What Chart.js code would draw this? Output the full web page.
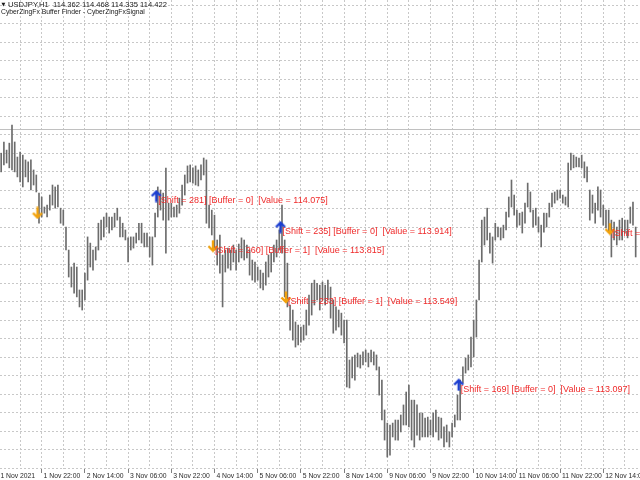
<!DOCTYPE html>
<html>
<head>
<meta charset="utf-8">
<script src="https://cdn.jsdelivr.net/npm/chart.js@4.4.1/dist/chart.umd.min.js"></script>
<style>
  html, body { margin: 0; padding: 0; background: #fff; }
  canvas { display: block; }
</style>
</head>
<body>
<canvas id="chart" width="640" height="480"></canvas>
<script>
const symbolLine = "USDJPY,H1  114.362 114.468 114.335 114.422";
const indicatorLine = "CyberZingFx Buffer Finder - CyberZingFxSignal";
const bidPrice = 114.422;

// H1 bars, oldest first; the first one has shift 339
const firstShift = 339;
const highs = [
  114.297, 114.355, 114.313, 114.349, 114.443, 114.355, 114.277, 114.303, 114.287, 114.262,
  114.252, 114.262, 114.210, 114.184, 114.090, 114.070, 114.018, 114.028, 114.080, 114.132,
  114.122, 114.132, 114.012, 114.002, 113.914, 113.795, 113.707, 113.727, 113.707, 113.588,
  113.588, 113.675, 113.863, 113.831, 113.795, 113.811, 113.934, 113.950, 113.966, 113.986,
  113.966, 113.966, 113.986, 114.012, 113.966, 113.934, 113.899, 113.858, 113.863, 113.863,
  113.883, 113.934, 113.934, 113.883, 113.883, 113.863, 113.863, 113.986, 114.122, 114.106,
  114.090, 114.220, 114.038, 114.038, 114.018, 114.028, 114.064, 114.132, 114.184, 114.231,
  114.236, 114.221, 114.231, 114.210, 114.236, 114.272, 114.262, 114.028, 114.002, 113.976,
  113.847, 113.873, 113.769, 113.795, 113.805, 113.795, 113.821, 113.795, 113.826, 113.858,
  113.847, 113.821, 113.795, 113.743, 113.733, 113.707, 113.691, 113.675, 113.733, 113.769,
  113.779, 113.821, 113.847, 113.899, 114.028, 113.847, 113.727, 113.510, 113.484, 113.422,
  113.406, 113.396, 113.406, 113.484, 113.562, 113.623, 113.639, 113.623, 113.613, 113.629,
  113.613, 113.639, 113.603, 113.536, 113.500, 113.484, 113.468, 113.432, 113.432, 113.225,
  113.241, 113.251, 113.261, 113.251, 113.267, 113.277, 113.261, 113.277, 113.267, 113.251,
  113.189, 113.121, 112.966, 112.898, 112.888, 112.898, 112.914, 112.914, 112.940, 112.992,
  113.059, 113.095, 113.017, 113.017, 112.992, 112.950, 112.950, 112.924, 112.929, 112.914,
  112.950, 112.966, 112.929, 112.924, 112.878, 112.888, 112.852, 112.898, 112.940, 113.043,
  113.121, 113.189, 113.235, 113.251, 113.344, 113.432, 113.536, 113.743, 113.950, 113.966,
  114.012, 113.883, 113.863, 113.934, 113.914, 113.909, 113.924, 113.992, 114.070, 114.158,
  114.080, 114.002, 113.986, 113.992, 114.038, 114.142, 114.096, 114.002, 114.012, 113.966,
  113.924, 113.986, 113.986, 114.038, 114.090, 114.096, 114.106, 114.106, 114.080, 114.070,
  114.246, 114.297, 114.287, 114.277, 114.272, 114.287, 114.252, 114.226, 114.106, 114.080,
  114.038, 114.122, 114.106, 114.028, 114.002, 114.002, 113.950, 113.940, 113.914, 113.950,
  113.960, 113.950, 113.950, 114.018, 114.044, 113.914
];
const lows = [
  114.200, 114.236, 114.246, 114.221, 114.210, 114.200, 114.174, 114.148, 114.122, 114.174,
  114.148, 114.106, 114.132, 114.096, 113.934, 113.966, 113.986, 113.966, 114.002, 114.028,
  114.012, 114.018, 113.934, 113.924, 113.795, 113.655, 113.603, 113.572, 113.552, 113.500,
  113.484, 113.536, 113.639, 113.707, 113.691, 113.743, 113.795, 113.847, 113.863, 113.914,
  113.883, 113.899, 113.914, 113.950, 113.863, 113.863, 113.847, 113.733, 113.795, 113.805,
  113.831, 113.847, 113.831, 113.811, 113.811, 113.759, 113.717, 113.863, 113.966, 114.002,
  113.950, 113.779, 113.950, 113.966, 113.966, 113.966, 113.986, 114.028, 114.080, 114.142,
  114.148, 114.142, 114.132, 114.127, 114.158, 114.184, 113.934, 113.909, 113.873, 113.795,
  113.717, 113.675, 113.500, 113.681, 113.701, 113.691, 113.733, 113.691, 113.733, 113.754,
  113.743, 113.754, 113.665, 113.639, 113.629, 113.639, 113.598, 113.588, 113.613, 113.655,
  113.681, 113.733, 113.759, 113.795, 113.779, 113.552, 113.500, 113.380, 113.328, 113.292,
  113.303, 113.318, 113.328, 113.354, 113.406, 113.458, 113.510, 113.536, 113.484, 113.536,
  113.510, 113.536, 113.442, 113.364, 113.380, 113.396, 113.354, 113.313, 113.085, 113.080,
  113.132, 113.121, 113.189, 113.183, 113.199, 113.215, 113.189, 113.215, 113.199, 113.173,
  113.043, 112.914, 112.810, 112.722, 112.732, 112.826, 112.810, 112.810, 112.852, 112.888,
  112.888, 112.878, 112.810, 112.774, 112.836, 112.810, 112.826, 112.826, 112.826, 112.836,
  112.826, 112.852, 112.810, 112.820, 112.774, 112.800, 112.774, 112.826, 112.878, 112.914,
  112.914, 113.106, 113.157, 113.173, 113.189, 113.241, 113.344, 113.536, 113.733, 113.821,
  113.847, 113.779, 113.727, 113.847, 113.863, 113.847, 113.858, 113.899, 113.966, 114.018,
  113.976, 113.914, 113.924, 113.883, 113.934, 114.018, 113.992, 113.914, 113.924, 113.888,
  113.811, 113.888, 113.914, 113.966, 114.018, 114.038, 114.054, 114.064, 114.038, 114.028,
  114.018, 114.210, 114.221, 114.226, 114.226, 114.221, 114.169, 114.148, 113.950, 113.986,
  113.934, 114.002, 113.966, 113.924, 113.909, 113.888, 113.759, 113.847, 113.821, 113.847,
  113.847, 113.883, 113.858, 113.934, 113.924, 113.759
];

// time scale: one label every 16 bars, the first one at shift 340
const tickLabels = [
  "1 Nov 2021", "1 Nov 22:00", "2 Nov 14:00", "3 Nov 06:00", "3 Nov 22:00",
  "4 Nov 14:00", "5 Nov 06:00", "5 Nov 22:00", "8 Nov 14:00", "9 Nov 06:00",
  "9 Nov 22:00", "10 Nov 14:00", "11 Nov 06:00", "11 Nov 22:00", "12 Nov 14:00"
];
const firstLabelShift = 340;
const barsPerLabel = 16;

// signals found by the buffer finder (buffer 0 = up arrow, buffer 1 = down arrow)
const signalShifts = [325, 281, 260, 235, 233, 169, 113];
const signalBuffers = [1, 0, 1, 0, 1, 0, 1];
const signalValues = [113.987, 114.075, 113.815, 113.914, 113.549, 113.097, 113.904];
const signalLabelled = [false, true, true, true, true, true, true];

const gridColor = "#c8c8c8";

function arrowImage(color, up) {
  const c = document.createElement("canvas");
  c.width = 15;
  c.height = 13;
  const g = c.getContext("2d");
  if (!up) { g.translate(0, 13); g.scale(1, -1); }
  g.strokeStyle = color;
  g.lineWidth = 2.4;
  g.beginPath();
  g.moveTo(1.5, 6.5); g.lineTo(6, 2); g.lineTo(10.5, 6.5);
  g.stroke();
  g.beginPath();
  g.moveTo(6, 2.5); g.lineTo(6, 12.5);
  g.stroke();
  return c;
}
const upArrow = arrowImage("#1c3fd1", true);
const downArrow = arrowImage("#f2a20c", false);

const bars = highs.map((h, k) => ({ x: firstShift - k, y: [lows[k], h] }));
const signalPoints = (buf) => signalShifts
  .map((s, n) => ({ x: s, y: signalValues[n], b: signalBuffers[n] }))
  .filter(p => p.b === buf);

const overlay = {
  id: "overlay",
  beforeDatasetsDraw(chart) {
    const { ctx, chartArea, scales } = chart;
    const y = Math.round(scales.y.getPixelForValue(bidPrice)) + 0.5;
    ctx.save();
    ctx.strokeStyle = "#c0c0c0";
    ctx.lineWidth = 1;
    ctx.beginPath();
    ctx.moveTo(chartArea.left, y);
    ctx.lineTo(chartArea.right, y);
    ctx.stroke();
    ctx.restore();
  },
  afterDatasetsDraw(chart) {
    const { ctx, scales } = chart;
    ctx.save();
    ctx.font = '9px "Liberation Sans", Arial, sans-serif';
    ctx.fillStyle = "#ef2a2a";
    ctx.textBaseline = "top";
    signalShifts.forEach((s, n) => {
      if (!signalLabelled[n]) return;
      const text = "[Shift = " + s + "] [Buffer = " + signalBuffers[n] + "]  [Value = " + signalValues[n].toFixed(3) + "]";
      ctx.fillText(text, scales.x.getPixelForValue(s) + 0.5, scales.y.getPixelForValue(signalValues[n]));
    });
    ctx.restore();
  },
  afterDraw(chart) {
    const ctx = chart.ctx;
    ctx.save();
    ctx.fillStyle = "#1a1a1a";
    ctx.textBaseline = "middle";
    ctx.font = '5px "DejaVu Sans", sans-serif';
    ctx.fillText("\u25BC", 1.5, 5);
    ctx.font = '7.6px "Liberation Sans", Arial, sans-serif';
    ctx.fillText(symbolLine, 8, 5);
    ctx.font = '6.8px "Liberation Sans", Arial, sans-serif';
    ctx.fillText(indicatorLine, 1, 12.5);
    ctx.restore();
  }
};

Chart.defaults.font.family = '"Liberation Sans", Arial, sans-serif';

new Chart(document.getElementById("chart").getContext("2d"), {
  type: "bar",
  data: {
    datasets: [
      {
        type: "bar",
        data: bars,
        backgroundColor: "#6c6c6c",
        borderWidth: 0,
        barThickness: 1,
        order: 3
      },
      {
        type: "scatter",
        data: signalPoints(0),
        pointStyle: upArrow,
        order: 1
      },
      {
        type: "scatter",
        data: signalPoints(1),
        pointStyle: downArrow,
        order: 1
      }
    ]
  },
  options: {
    responsive: false,
    animation: false,
    devicePixelRatio: 1,
    layout: { padding: 0, autoPadding: false },
    plugins: { legend: { display: false }, tooltip: { enabled: false } },
    scales: {
      x: {
        type: "linear",
        reverse: true,
        min: 102.4,
        max: 339.444,
        offset: false,
        afterBuildTicks: (scale) => {
          const t = [];
          for (let s = firstLabelShift; s > scale.min; s -= barsPerLabel / 2) t.push({ value: s });
          scale.ticks = t;
        },
        afterFit: (scale) => {
          scale.height = 11;
          scale.paddingLeft = 0;
          scale.paddingRight = 0;
        },
        ticks: {
          autoSkip: false,
          maxRotation: 0,
          minRotation: 0,
          align: "start",
          padding: -1,
          color: "#2a2a2a",
          font: { size: 6.8 },
          callback: (v) => {
            const m = (firstLabelShift - v) / barsPerLabel;
            return Number.isInteger(m) && tickLabels[m] ? " " + tickLabels[m] : "";
          }
        },
        grid: {
          color: gridColor,
          offset: false,
          drawTicks: true,
          tickLength: 4,
          tickColor: (c) => (c.tick && c.tick.label ? "#808080" : "rgba(0,0,0,0)"),
          tickBorderDash: []
        },
        border: { display: false, dash: [2, 2] }
      },
      y: {
        type: "linear",
        min: 112.660,
        max: 115.091,
        afterBuildTicks: (scale) => {
          const t = [];
          for (let v = 115.065; v > scale.min; v -= 0.0961) t.push({ value: v });
          scale.ticks = t;
        },
        afterFit: (scale) => { scale.width = 0; },
        ticks: { display: false },
        grid: { color: gridColor, drawTicks: false },
        border: { display: false, dash: [2, 2] }
      }
    }
  },
  plugins: [overlay]
});
</script>
</body>
</html>
